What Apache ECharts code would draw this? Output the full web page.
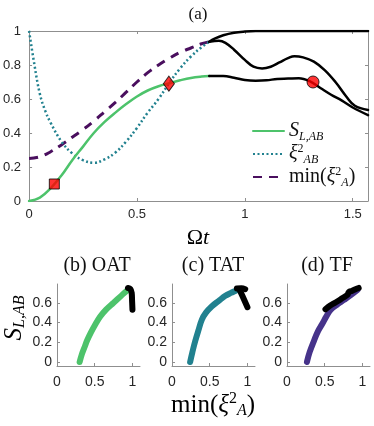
<!DOCTYPE html>
<html>
<head>
<meta charset="utf-8">
<script src="https://cdn.jsdelivr.net/npm/echarts@6/dist/echarts.min.js"></script>
<style>
html,body{margin:0;padding:0;background:#fff;}
#main{width:374px;height:426px;}
</style>
</head>
<body>
<div id="main"></div>
<script>
// panel (a): [Omega t, value]
var sLAB = [[0,0],[0.05,0.02],[0.1,0.075],[0.15,0.15],[0.2,0.24],[0.25,0.32],[0.3,0.40],[0.35,0.465],[0.4,0.52],[0.45,0.57],[0.5,0.615],[0.55,0.65],[0.6,0.675],[0.65,0.693],[0.7,0.71],[0.75,0.724],[0.8,0.732],[0.835,0.735]];
var xiAB = [[0,1],[0.025,0.8],[0.05,0.63],[0.075,0.53],[0.1,0.46],[0.15,0.35],[0.2,0.28],[0.25,0.24],[0.3,0.225],[0.35,0.245],[0.4,0.285],[0.45,0.35],[0.5,0.43],[0.55,0.52],[0.6,0.60],[0.65,0.695],[0.7,0.78],[0.75,0.85],[0.8,0.905],[0.835,0.937]];
var minXiA = [[0,0.25],[0.05,0.26],[0.1,0.29],[0.15,0.33],[0.2,0.375],[0.25,0.42],[0.3,0.47],[0.35,0.525],[0.4,0.58],[0.45,0.64],[0.5,0.70],[0.55,0.755],[0.6,0.80],[0.65,0.84],[0.7,0.875],[0.75,0.90],[0.8,0.925],[0.835,0.937]];
var blackTop = [[0.835,0.937],[0.86,0.955],[0.9,0.975],[0.95,0.99],[1.0,0.997],[1.05,1],[1.571,1]];
var blackMid = [[0.835,0.937],[0.88,0.943],[0.91,0.93],[0.95,0.89],[1.0,0.83],[1.04,0.79],[1.08,0.78],[1.12,0.79],[1.16,0.815],[1.2,0.84],[1.23,0.852],[1.27,0.845],[1.32,0.82],[1.37,0.77],[1.42,0.70],[1.47,0.615],[1.51,0.56],[1.571,0.535]];
var blackLow = [[0.835,0.735],[0.9,0.735],[0.95,0.725],[1.0,0.712],[1.05,0.708],[1.1,0.71],[1.15,0.718],[1.2,0.72],[1.25,0.722],[1.3,0.705],[1.35,0.665],[1.4,0.625],[1.45,0.59],[1.5,0.55],[1.571,0.505]];
var squarePt = [[0.117,0.10]];
var diamondPt = [[0.648,0.69]];
var circlePt = [[1.316,0.70]];

// panels (b)-(d): [min(xi_A^2), S_L,AB]
var oatColor = [[0.30,0],[0.33,0.08],[0.37,0.16],[0.40,0.22],[0.45,0.30],[0.5,0.37],[0.573,0.46],[0.65,0.53],[0.75,0.60],[0.85,0.67],[0.93,0.725],[0.95,0.74]];
var oatBlack = [[0.94,0.75],[0.97,0.74],[0.99,0.70],[0.995,0.62],[1.0,0.53]];
var tatColor = [[0.24,0],[0.27,0.1],[0.307,0.21],[0.35,0.32],[0.396,0.43],[0.45,0.50],[0.529,0.565],[0.62,0.62],[0.707,0.67],[0.78,0.70],[0.84,0.72],[0.87,0.73]];
var tatBlackA = [[0.86,0.745],[0.92,0.748],[0.97,0.738]];
var tatBlackB = [[0.9,0.725],[0.95,0.64],[1.0,0.555]];
var tfColor = [[0.264,0],[0.3,0.1],[0.36,0.22],[0.41,0.31],[0.47,0.39],[0.52,0.46],[0.58,0.53],[0.67,0.585],[0.757,0.63],[0.85,0.68],[0.934,0.73]];
var tfBlack = [[0.51,0.535],[0.55,0.56],[0.6,0.585],[0.67,0.615],[0.73,0.645],[0.8,0.68],[0.82,0.71],[0.86,0.72],[0.9,0.735],[0.95,0.75]];

var xTicksA = [0, 0.5, 1, 1.5];
var yTicksA = [0, 0.2, 0.4, 0.6, 0.8, 1];
var xTicksB = [0, 0.5, 1];
var yTicksB = [0, 0.2, 0.4, 0.6];

var axisGray = '#8f8f8f';
var labelColor = '#262626';
var sans = 'Liberation Sans, Arial, sans-serif';
var serif = 'Liberation Serif, Times New Roman, serif';

function mathRich(size) {
    var s = Math.round(size * 0.62);
    return {
        it: {fontFamily: serif, fontStyle: 'italic', fontSize: size, lineHeight: size + 3, color: '#111'},
        rm: {fontFamily: serif, fontSize: size, lineHeight: size + 3, color: '#111'},
        sub: {fontFamily: serif, fontStyle: 'italic', fontSize: s, lineHeight: s, verticalAlign: 'bottom', color: '#111'},
        sup: {fontFamily: serif, fontSize: s, lineHeight: s, verticalAlign: 'top', color: '#111'}
    };
}
var rich = mathRich(20);
var bigRich = mathRich(25);
var legendText = {
    'sL': '{it|S}{sub|L,AB}',
    'xiAB': '{it|ξ}{sup|2}{sub|AB}',
    'minXiA': '{rm|min(}{it|ξ}{sup|2}{sub|A}{rm|)}'
};

function valAxis(gridIndex, min, max, ticks, pos, showLabels, margin, fs) {
    return {
        type: 'value', gridIndex: gridIndex, min: min, max: max, position: pos,
        axisLine: {show: true, onZero: false, lineStyle: {color: axisGray, width: 1}},
        axisTick: {show: true, inside: true, length: 3, customValues: ticks, lineStyle: {color: axisGray}},
        axisLabel: {show: showLabels, customValues: ticks, margin: margin, color: labelColor, fontFamily: sans, fontSize: fs || 13},
        splitLine: {show: false}
    };
}

var myChart = echarts.init(document.getElementById('main'));

var grids = [
    {left: 29, top: 31, width: 339, height: 170},
    {left: 57, top: 284, width: 83, height: 82},
    {left: 172, top: 284, width: 83, height: 82},
    {left: 287, top: 284, width: 83, height: 82}
];

var xAxes = [
    valAxis(0, 0, 1.5708, xTicksA, 'bottom', true, 7),
    valAxis(0, 0, 1.5708, xTicksA, 'top', false, 7),
    valAxis(1, 0, 1.1, xTicksB, 'bottom', true, 9, 14),
    valAxis(2, 0, 1.1, xTicksB, 'bottom', true, 9, 14),
    valAxis(3, 0, 1.1, xTicksB, 'bottom', true, 9, 14)
];
var yAxes = [
    valAxis(0, 0, 1, yTicksA, 'left', true, 8),
    valAxis(0, 0, 1, yTicksA, 'right', false, 8),
    valAxis(1, -0.04, 0.79, yTicksB, 'left', true, 5, 14),
    valAxis(2, -0.04, 0.79, yTicksB, 'left', true, 5, 14),
    valAxis(3, -0.04, 0.79, yTicksB, 'left', true, 5, 14)
];

function lineS(name, data, xi, yi, color, width, type, z, cap) {
    return {
        name: name, type: 'line', data: data, xAxisIndex: xi, yAxisIndex: yi,
        showSymbol: false, symbol: 'none', smooth: 0.4, z: z || 2,
        lineStyle: {color: color, width: width, type: type || 'solid', cap: cap || 'round'},
        itemStyle: {color: color},
        animation: false
    };
}
function markS(data, symbol, size) {
    return {
        type: 'scatter', data: data, xAxisIndex: 0, yAxisIndex: 0,
        symbol: symbol, symbolSize: size, z: 10,
        itemStyle: {color: '#ff0000', borderColor: '#000', borderWidth: 1}
    };
}

var green = '#4dc36b', teal = '#21818f', plum = '#4a0f5e', indigo = '#46338a';

var option = {
    animation: false,
    grid: grids,
    xAxis: xAxes,
    yAxis: yAxes,
    legend: {
        data: ['sL', 'xiAB', 'minXiA'],
        orient: 'vertical', left: 247, top: 116,
        itemWidth: 31, itemHeight: 12, itemGap: 0,
        itemStyle: {opacity: 0},
        formatter: function (name) { return legendText[name]; },
        textStyle: {rich: rich}
    },
    graphic: [
        {type: 'text', x: 198, y: 15, style: {text: '(a)', font: '17px ' + serif, fill: '#111', textAlign: 'center', textVerticalAlign: 'middle'}},
        {type: 'text', x: 198, y: 238, style: {text: '{rm|Ω}{it|t}', rich: mathRich(22), textAlign: 'center', textVerticalAlign: 'middle'}},
        {type: 'text', x: 97, y: 266, style: {text: '(b) OAT', font: '20px ' + serif, fill: '#111', textAlign: 'center', textVerticalAlign: 'middle'}},
        {type: 'text', x: 213, y: 266, style: {text: '(c) TAT', font: '20px ' + serif, fill: '#111', textAlign: 'center', textVerticalAlign: 'middle'}},
        {type: 'text', x: 327, y: 266, style: {text: '(d) TF', font: '20px ' + serif, fill: '#111', textAlign: 'center', textVerticalAlign: 'middle'}},
        {type: 'text', x: 213, y: 405, style: {text: '{rm|min(}{it|ξ}{sup|2}{sub|A}{rm|)}', rich: bigRich, textAlign: 'center', textVerticalAlign: 'middle'}},
        {type: 'text', x: 14, y: 318, rotation: Math.PI / 2, style: {text: '{it|S}{sub|L,AB}', rich: bigRich, textAlign: 'center', textVerticalAlign: 'middle'}}
    ],
    series: [
        lineS('minXiA', minXiA, 0, 0, plum, 3, [9, 7], 2, 'butt'),
        lineS('xiAB', xiAB, 0, 0, teal, 2.5, [2, 2.5], 2, 'butt'),
        lineS('sL', sLAB, 0, 0, green, 2.5),
        lineS('', blackTop, 0, 0, '#000', 2.5),
        lineS('', blackMid, 0, 0, '#000', 2.5),
        lineS('', blackLow, 0, 0, '#000', 2.5),
        markS(squarePt, 'rect', 10),
        markS(diamondPt, 'diamond', [11, 15]),
        markS(circlePt, 'circle', 12),
        lineS('', oatColor, 2, 2, green, 6),
        lineS('', oatBlack, 2, 2, '#000', 6, 'solid', 3),
        lineS('', tatColor, 3, 3, teal, 6),
        lineS('', tatBlackA, 3, 3, '#000', 6, 'solid', 3),
        lineS('', tatBlackB, 3, 3, '#000', 6, 'solid', 3),
        lineS('', tfColor, 4, 4, indigo, 6),
        lineS('', tfBlack, 4, 4, '#000', 6, 'solid', 3)
    ]
};
myChart.setOption(option);
</script>
</body>
</html>
